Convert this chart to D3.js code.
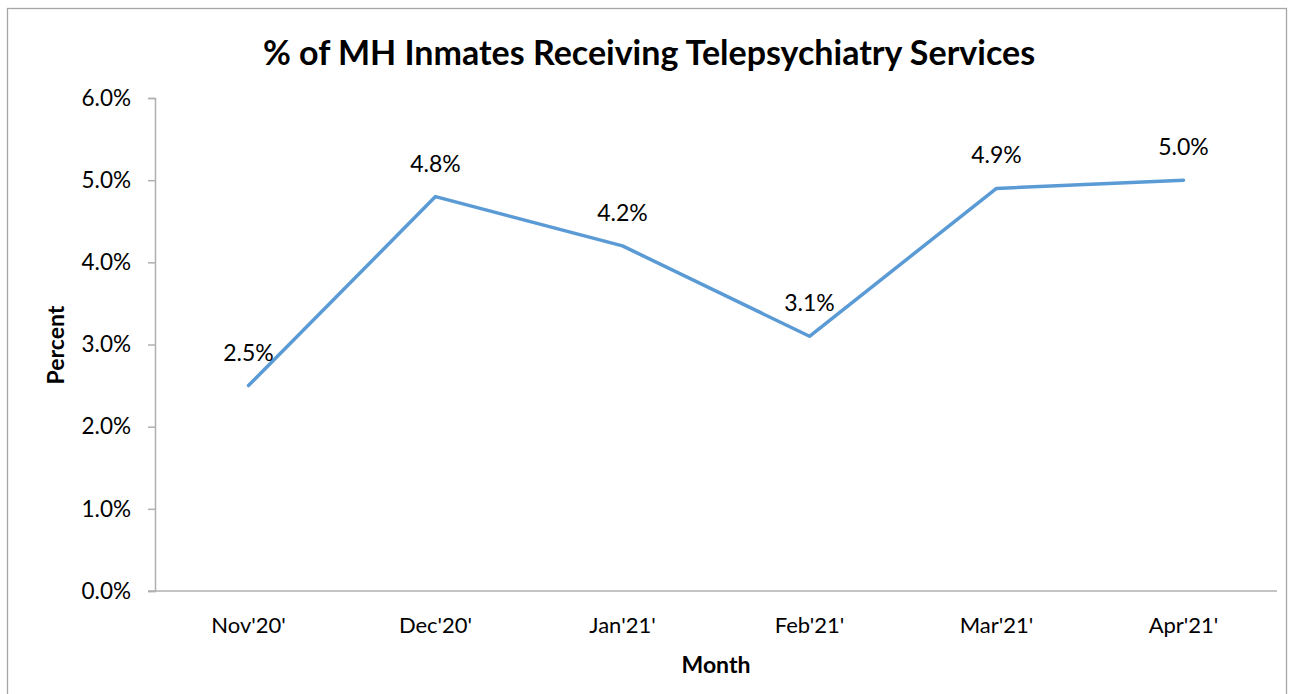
<!DOCTYPE html>
<html>
<head>
<meta charset="utf-8">
<script src="https://cdn.jsdelivr.net/npm/d3@7"></script>
<style>
  body { margin: 0; background: #fff; }
  #canvas { width: 1289px; height: 694px; }
  text { font-family: Lato, "Open Sans", sans-serif; fill: #000; }
</style>
</head>
<body>
<div id="canvas" class="canvas"></div>
<script>
var months = ["Nov'20'", "Dec'20'", "Jan'21'", "Feb'21'", "Mar'21'", "Apr'21'"];
var pct = [2.5, 4.8, 4.2, 3.1, 4.9, 5.0];
var yTicks = [0, 1, 2, 3, 4, 5, 6];

var W = 1289, H = 694;
var m = {t:98, r:12, b:103, l:155},
    w = W - m.l - m.r,
    h = H - m.t - m.b;

var svg = d3.select('.canvas')
    .append('svg')
    .attr('width', W)
    .attr('height', H);

// outer chart border
svg.append('rect')
    .attr('x', 7.5).attr('y', 8.5)
    .attr('width', W - 10).attr('height', H)
    .style('fill', 'none')
    .style('stroke', '#a6a6a6')
    .style('stroke-width', 1.3);

var plot = svg.append('g')
    .attr('transform', 'translate(' + m.l + ',' + m.t + ')');

var x = d3.scaleBand().domain(months).range([0, w]);
var y = d3.scaleLinear().domain([0, 6]).range([h, 0]);

// y axis
var yAxis = plot.append('g')
    .call(d3.axisLeft(y).tickValues(yTicks).tickSize(7).tickSizeOuter(7)
        .tickFormat(function(d){ return d.toFixed(1) + '%'; }));
yAxis.selectAll('line, path').style('stroke', '#b0b0b0').style('stroke-width', 1.5);
yAxis.selectAll('text').style('font-size', '22.5px').attr('x', -24);

// x axis
var xAxis = plot.append('g')
    .attr('transform', 'translate(0,' + h + ')')
    .call(d3.axisBottom(x).tickSize(0).tickSizeOuter(0));
xAxis.select('.domain').style('stroke', '#b0b0b0').style('stroke-width', 1.5)
    .attr('d', 'M-7,0H' + w);
xAxis.selectAll('text').style('font-size', '22px').attr('y', 26);

var line = d3.line()
    .x(function(d, i){ return x(months[i]) + x.bandwidth()/2; })
    .y(function(d){ return y(d); });

plot.append('path')
    .datum(pct)
    .attr('d', line)
    .style('fill', 'none')
    .style('stroke', '#5b9bd5')
    .style('stroke-width', 3.5)
    .style('stroke-linecap', 'round')
    .style('stroke-linejoin', 'round');

plot.selectAll('.lbl')
    .data(pct)
    .enter()
    .append('text').attr('class', 'lbl')
    .attr('x', function(d, i){ return x(months[i]) + x.bandwidth()/2; })
    .attr('y', function(d){ return y(d) - 25; })
    .attr('text-anchor', 'middle')
    .style('font-size', '23px')
    .text(function(d){ return d.toFixed(1) + '%'; });

// titles
svg.append('text')
    .attr('x', 649).attr('y', 65)
    .attr('text-anchor', 'middle')
    .style('font-size', '34px').style('font-weight', 'bold')
    .text('% of MH Inmates Receiving Telepsychiatry Services');

svg.append('text')
    .attr('x', 716).attr('y', 673)
    .attr('text-anchor', 'middle')
    .style('font-size', '23px').style('font-weight', 'bold')
    .text('Month');

svg.append('text')
    .attr('transform', 'translate(64,345) rotate(-90)')
    .attr('text-anchor', 'middle')
    .style('font-size', '23px').style('font-weight', 'bold')
    .text('Percent');
</script>
</body>
</html>
